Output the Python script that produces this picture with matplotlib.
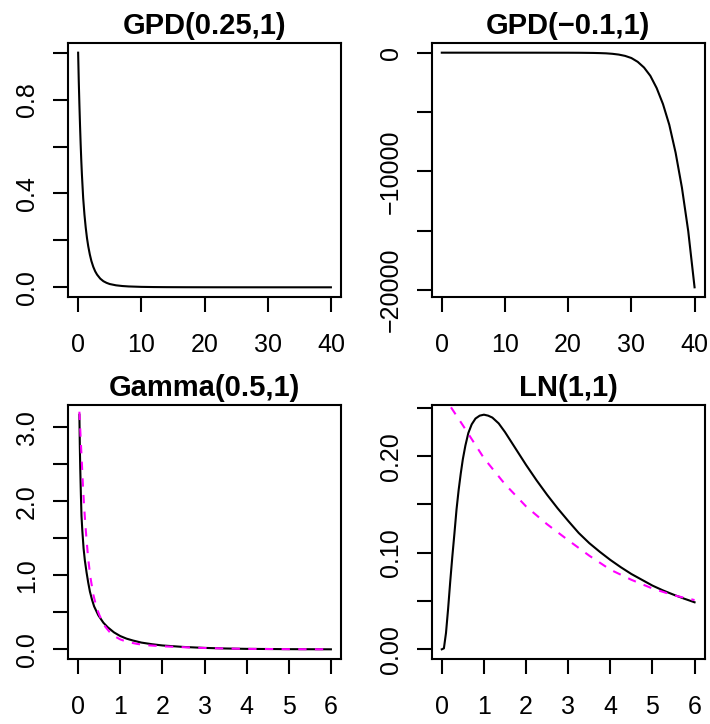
import numpy as np
import matplotlib
matplotlib.use("Agg")
import matplotlib.pyplot as plt

plt.rcParams['font.family'] = ['Liberation Sans', 'DejaVu Sans']

### values
# GPD(0.25,1)
gpd1_x = [0, 0.1, 0.2, 0.3, 0.4, 0.5, 0.6, 0.8, 1.0, 1.2, 1.4, 1.6, 1.85, 2.1, 2.4, 2.7, 3.0,
          3.5, 4.0, 4.5, 5.0, 6.0, 7.0, 8.0, 10, 12, 14, 17, 20, 25, 30, 35, 40]
gpd1_y = [1.0, 0.88, 0.78, 0.69, 0.61, 0.54, 0.48, 0.38, 0.31, 0.255, 0.21, 0.175, 0.14, 0.112,
          0.087, 0.068, 0.054, 0.037, 0.026, 0.019, 0.014, 0.0085, 0.0055, 0.0037, 0.0019, 0.0011,
          0.0007, 0.0004, 0.00025, 0.00012, 0.00007, 0.00004, 0.00003]

# GPD(-0.1,1)
gpd2_x = [0, 5, 10, 15, 20, 22, 24, 25, 26, 27, 28, 29, 30, 31, 32, 33, 34, 35, 36, 37, 38, 39, 40]
gpd2_y = [0, -0.3, -1, -2, -5, -10, -22, -35, -55, -95, -160, -270, -450, -770, -1250, -1950,
          -2980, -4330, -6080, -8430, -11380, -15050, -19780]

# Gamma(0.5,1): solid and dashed
gam_x = [0.03, 0.04, 0.05, 0.065, 0.08, 0.1, 0.13, 0.16, 0.2, 0.24, 0.28, 0.33, 0.38, 0.48, 0.6,
         0.7, 0.85, 1.0, 1.15, 1.3, 1.5, 1.75, 2.0, 2.5, 3.0, 3.5, 4.0, 5.0, 6.0]
gam_y = [3.17, 2.75, 2.45, 2.1, 1.8, 1.6, 1.36, 1.2, 1.04, 0.9, 0.78, 0.67, 0.58, 0.46, 0.36,
         0.3, 0.23, 0.18, 0.145, 0.12, 0.092, 0.07, 0.053, 0.033, 0.02, 0.012, 0.007, 0.003, 0.001]
gam_fit_x = [0.03, 0.06, 0.09, 0.115, 0.14, 0.17, 0.2, 0.24, 0.29, 0.36, 0.44, 0.5, 0.57, 0.64,
             0.74, 0.84, 1.0, 1.16, 1.4, 1.64, 2.0, 2.3, 2.7, 3.0, 3.5, 4.0, 5.0, 6.0]
gam_fit_y = [3.21, 2.85, 2.5, 2.2, 1.95, 1.7, 1.48, 1.22, 0.98, 0.74, 0.56, 0.47, 0.38, 0.31,
             0.24, 0.185, 0.135, 0.102, 0.074, 0.056, 0.042, 0.034, 0.025, 0.019, 0.012, 0.007,
             0.003, 0.001]

# LN(1,1): solid and dashed
ln_x = [0, 0.05, 0.1, 0.15, 0.2, 0.25, 0.3, 0.35, 0.4, 0.45, 0.5, 0.56, 0.63, 0.71, 0.8, 0.9,
        1.0, 1.1, 1.2, 1.35, 1.5, 1.75, 2.0, 2.25, 2.5, 2.75, 3.0, 3.25, 3.5, 3.75, 4.0, 4.25,
        4.5, 4.75, 5.0, 5.25, 5.5, 5.75, 6.0]
ln_y = [0, 0.001, 0.017, 0.042, 0.07, 0.096, 0.12, 0.145, 0.165, 0.182, 0.197, 0.211, 0.224,
        0.233, 0.239, 0.242, 0.243, 0.242, 0.24, 0.234, 0.225, 0.208, 0.191, 0.175, 0.16, 0.146,
        0.133, 0.1205, 0.11, 0.101, 0.0926, 0.085, 0.078, 0.072, 0.066, 0.061, 0.0566, 0.0525,
        0.0487]
ln_fit_x = [0, 0.5, 1.0, 1.5, 2.0, 2.5, 3.0, 3.5, 4.0, 4.5, 5.0, 5.5, 6.0]
ln_fit_y = [0.265, 0.232, 0.198, 0.171, 0.148, 0.1295, 0.113, 0.097, 0.0825, 0.072, 0.063,
            0.056, 0.051]

titles = ["GPD(0.25,1)", "GPD(\u22120.1,1)", "Gamma(0.5,1)", "LN(1,1)"]
xticks_big = [0, 10, 20, 30, 40]
xticks_small = [0, 1, 2, 3, 4, 5, 6]
yt1 = [0, 0.2, 0.4, 0.6, 0.8, 1.0]
yl1 = ["0.0", "", "0.4", "", "0.8", ""]
yt2 = [0, -5000, -10000, -15000, -20000]
yl2 = ["0", "", "\u221210000", "", "\u221220000"]
yt3 = [0, 0.5, 1.0, 1.5, 2.0, 2.5, 3.0]
yl3 = ["0.0", "", "1.0", "", "2.0", "", "3.0"]
yt4 = [0, 0.05, 0.10, 0.15, 0.20, 0.25]
yl4 = ["0.00", "", "0.10", "", "0.20", ""]

LW = 1.5
FS = 18


def rlim(vals):
    lo, hi = min(vals), max(vals)
    d = hi - lo
    return lo - 0.04 * d, hi + 0.04 * d


def style(ax, title, xt, yt, yl):
    for s in ax.spines.values():
        s.set_linewidth(LW)
    ax.set_title(title, fontsize=21, fontweight='bold', pad=7)
    ax.set_xticks(xt)
    ax.set_xticklabels([str(v) for v in xt], fontsize=FS)
    ax.set_yticks(yt)
    ax.set_yticklabels(yl, fontsize=FS, rotation=90, va='center')
    ax.tick_params(direction='out', length=10.8, width=LW)
    ax.tick_params(axis='x', pad=15)
    ax.tick_params(axis='y', pad=10)


fig = plt.figure(figsize=(7.1, 7.24), dpi=100)
W, H = 0.3845, 0.35
ax1 = fig.add_axes([0.0958, 0.5902, W, H])
ax2 = fig.add_axes([0.608, 0.5902, W, H])
ax3 = fig.add_axes([0.0958, 0.0902, W, H])
ax4 = fig.add_axes([0.608, 0.0902, W, H])

ax1.plot(gpd1_x, gpd1_y, color='black', lw=LW)
ax1.set_xlim(rlim(gpd1_x))
ax1.set_ylim(rlim(gpd1_y))
style(ax1, titles[0], xticks_big, yt1, yl1)

ax2.plot(gpd2_x, gpd2_y, color='black', lw=LW)
ax2.set_xlim(rlim(gpd2_x))
ax2.set_ylim(rlim(gpd2_y))
style(ax2, titles[1], xticks_big, yt2, yl2)

ax3.plot(gam_x, gam_y, color='black', lw=LW)
ax3.plot(gam_fit_x, gam_fit_y, color='#ff00ff', lw=LW, dashes=(4, 4))
ax3.set_xlim(rlim([0] + gam_x))
ax3.set_ylim(rlim(gam_y))
style(ax3, titles[2], xticks_small, yt3, yl3)

ax4.plot(ln_x, ln_y, color='black', lw=LW)
ax4.plot(ln_fit_x, ln_fit_y, color='#ff00ff', lw=LW, dashes=(4, 4))
ax4.set_xlim(rlim(ln_x))
ax4.set_ylim(rlim(ln_y))
style(ax4, titles[3], xticks_small, yt4, yl4)

fig.savefig("out.png", dpi=100)
